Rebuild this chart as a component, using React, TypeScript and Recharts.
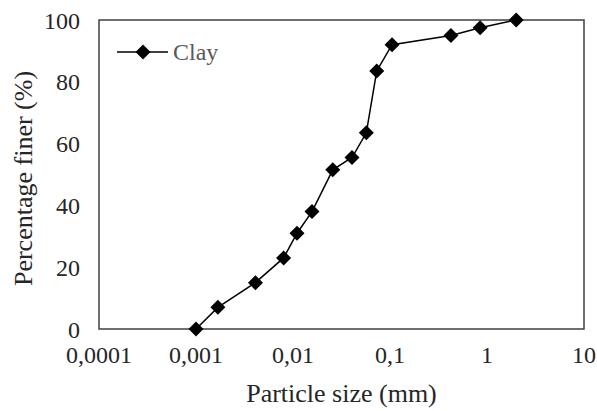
import React from "react";
import {
  LineChart,
  Line,
  XAxis,
  YAxis,
  ReferenceArea,
  Label,
} from "recharts";

const particleSizes = [0.001, 0.00168, 0.0041, 0.008, 0.011, 0.0157, 0.0257, 0.0406, 0.057, 0.073, 0.105, 0.425, 0.85, 2.0];
const percentFiner = [0, 7, 15, 23, 31, 38, 51.5, 55.5, 63.5, 83.5, 92, 95, 97.5, 100];
const xTicks = [0.0001, 0.001, 0.01, 0.1, 1, 10];
const yTicks = [0, 20, 40, 60, 80, 100];
const seriesName = "Clay";

const data = particleSizes.map((s, i) => ({ size: s, finer: percentFiner[i] }));

const FONT = "'Liberation Serif', 'Times New Roman', serif";
const tickStyle = { fontFamily: FONT, fontSize: 24, fill: "#262626" };

const Diamond = (props: any) => {
  const { cx, cy } = props;
  if (cx == null || cy == null) return null;
  const r = 7.5;
  return (
    <polygon
      points={`${cx},${cy - r} ${cx + r},${cy} ${cx},${cy + r} ${cx - r},${cy}`}
      fill="#000"
      stroke="none"
    />
  );
};

const LegendOverlay = () => (
  <svg
    width={120}
    height={30}
    style={{ position: "absolute", left: 117, top: 37, pointerEvents: "none" }}
  >
    <line x1={0} y1={15} x2={51} y2={15} stroke="#000" strokeWidth={1.5} />
    <polygon points="26,7.5 33.5,15 26,22.5 18.5,15" fill="#000" />
    <text x={56} y={23} fontFamily={FONT} fontSize={24} fill="#595959">
      {seriesName}
    </text>
  </svg>
);

const fmt = (v: number) => String(v).replace(".", ",");

export default function App() {
  return (
    <div style={{ position: "absolute", left: 0, top: 0, width: 597, height: 411, background: "#fff" }}>
      <LineChart
        width={597}
        height={411}
        data={data}
        margin={{ top: 20, right: 13, bottom: 0, left: 0 }}
      >
        <XAxis
          dataKey="size"
          type="number"
          scale="log"
          domain={[0.0001, 10]}
          ticks={xTicks}
          allowDataOverflow
          tickFormatter={fmt}
          tick={tickStyle}
          tickLine={false}
          tickSize={0}
          tickMargin={17}
          axisLine={false}
          height={82}
          interval={0}
        >
          <Label
            content={(p: any) => {
              const vb = p.viewBox;
              return (
                <text
                  x={vb.x + vb.width / 2}
                  y={vb.y + 73}
                  textAnchor="middle"
                  fontFamily={FONT}
                  fontSize={26}
                  fill="#262626"
                >
                  Particle size (mm)
                </text>
              );
            }}
          />
        </XAxis>
        <YAxis
          type="number"
          domain={[0, 100]}
          ticks={yTicks}
          tick={tickStyle}
          tickLine={false}
          tickSize={0}
          tickMargin={19}
          axisLine={false}
          width={99}
          interval={0}
        >
          <Label
            content={(p: any) => {
              const vb = p.viewBox;
              const cx = 23;
              const cy = vb.y + vb.height / 2 + 4;
              return (
                <text
                  x={cx}
                  y={cy}
                  transform={`rotate(-90 ${cx} ${cy})`}
                  textAnchor="middle"
                  dominantBaseline="central"
                  fontFamily={FONT}
                  fontSize={26}
                  fill="#262626"
                >
                  Percentage finer (%)
                </text>
              );
            }}
          />
        </YAxis>
        <ReferenceArea
          x1={0.0001}
          x2={10}
          y1={0}
          y2={100}
          fill="none"
          fillOpacity={0}
          stroke="#404040"
          strokeWidth={1.5}
          ifOverflow="visible"
        />
        <Line
          dataKey="finer"
          name={seriesName}
          stroke="#000"
          strokeWidth={1.5}
          dot={<Diamond />}
          activeDot={false}
          isAnimationActive={false}
        />
      </LineChart>
      <LegendOverlay />
    </div>
  );
}
